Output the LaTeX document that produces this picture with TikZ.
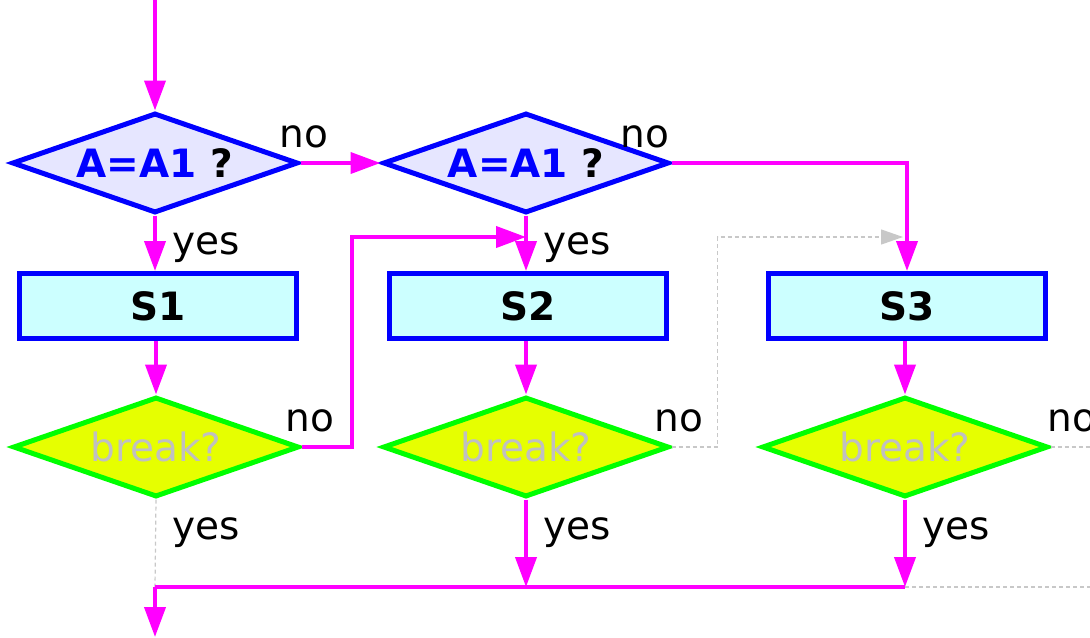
\documentclass[tikz,border=0pt]{standalone}
\usepackage{fontspec}
\setmainfont{DejaVu Sans}
\usetikzlibrary{shapes.geometric, arrows.meta, positioning, calc}

\definecolor{testfill}{HTML}{E6E6FF}
\definecolor{stmtfill}{HTML}{CCFFFF}
\definecolor{brkfill}{HTML}{E6FF00}
\definecolor{brkline}{HTML}{00FF00}
\definecolor{brktext}{HTML}{C0C0C0}
\definecolor{flowc}{HTML}{FF00FF}
\definecolor{idlec}{HTML}{C8C8C8}

\begin{document}
\begin{tikzpicture}[x=0.5pt,y=-0.5pt,>={Triangle[length=15pt,width=10.5pt]},
    font=\fontsize{19.5}{23}\selectfont,
    test/.style={diamond,draw=blue,fill=testfill,line width=2.5pt,aspect=2.86,
      minimum width=143pt,minimum height=50pt,inner sep=0pt,font=\fontsize{19.5}{23}\selectfont\bfseries},
    brk/.style={diamond,draw=brkline,fill=brkfill,line width=2.5pt,aspect=2.86,
      minimum width=143pt,minimum height=50pt,inner sep=0pt,text=brktext},
    stmt/.style={rectangle,draw=blue,fill=stmtfill,line width=2.5pt,
      minimum width=138.5pt,minimum height=32.5pt,font=\fontsize{19.5}{23}\selectfont\bfseries},
    flow/.style={flowc,line width=2pt},
    idle/.style={idlec,line width=0.6pt,dash pattern=on 2pt off 1.5pt},
    lbl/.style={inner sep=0pt,anchor=base}]
    \clip (0,0) rectangle (1090,637);

    % the two tests
    \node[test] (t1) at (155,163) {\textcolor{blue}{A=A1} ?};
    \node[test] (t2) at (526,163) {\textcolor{blue}{A=A1} ?};

    % the statements
    \node[stmt] (s1) at (158,306) {S1};
    \node[stmt] (s2) at (528,306) {S2};
    \node[stmt] (s3) at (907,306) {S3};

    % the break tests
    \foreach \i/\x in {1/156,2/526,3/905}
      \node[brk] (b\i) at (\x,447) {break?};

    % joints of the lines
    \coordinate (top) at (155,0);
    \coordinate (j2) at (526,237);
    \coordinate (j3) at (903,237);
    \coordinate (m1) at (155,587);
    \coordinate (out) at (155,637);
    \coordinate (r5) at (1090,447);
    \coordinate (r6) at (1090,587);

    % main flow
    \draw[flow,->] (top) -- (t1.north);
    \draw[flow,->] (t1.east) -- (t2.west);
    \draw[flow,->] (t2.east) -- (t2.east -| s3) -- (s3.north);
    \draw[flow,->] (t1.south) -- (t1.south |- s1.north);
    \draw[flow,->] (t2.south) -- (t2.south |- s2.north);
    \foreach \i in {1,2,3}
      \draw[flow,->] (s\i.south -| b\i) -- (b\i.north);

    % break no-branches
    \draw[flow,->] (b1.east) -- ++(50,0) |- (j2);
    \draw[idle,-{Triangle[length=11pt,width=7.5pt]}] (b2.east) -- ++(46,0) |- (j3);
    \draw[idle] (b3.east) -- (r5);

    % break yes-branches
    \draw[idle] (b1.south) -- (m1);
    \draw[flow,->] (b2.south) -- (b2.south |- m1);
    \draw[flow,->] (b3.south) -- (b3.south |- m1);
    \draw[flow] (m1) -- (b3.south |- m1);
    \draw[idle] (b3.south |- m1) -- (r6);
    \draw[flow,->] (m1) -- (out);

    % labels
    \node[lbl] (no1) at (304,147) {no};
    \node[lbl] (no2) at (645,147) {no};
    \node[lbl] (yes1) at (206,254) {yes};
    \node[lbl] (yes2) at (577,254) {yes};
    \node[lbl] (no3) at (310,431) {no};
    \node[lbl] (no4) at (679,431) {no};
    \node[lbl] (no5) at (1072,431) {no};
    \node[lbl] (yes3) at (206,539) {yes};
    \node[lbl] (yes4) at (577,539) {yes};
    \node[lbl] (yes5) at (956,539) {yes};
\end{tikzpicture}
\end{document}
